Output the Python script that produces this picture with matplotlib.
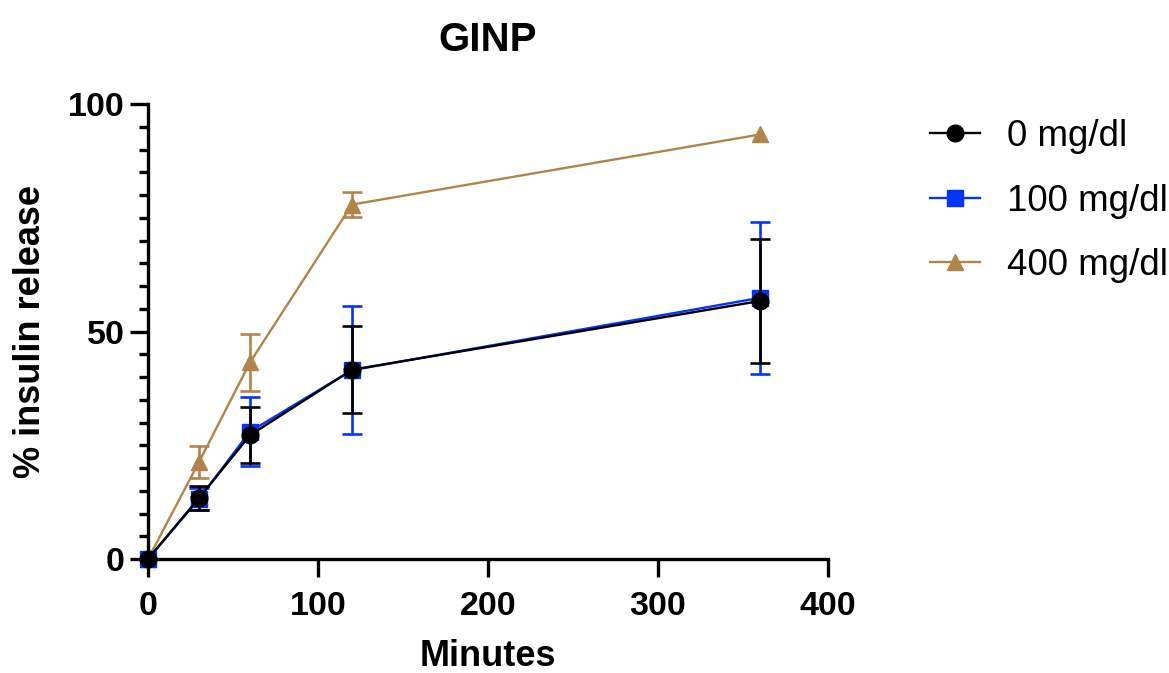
import numpy as np
import matplotlib
matplotlib.use("Agg")
import matplotlib.pyplot as plt
from matplotlib.ticker import MultipleLocator

plt.rcParams['font.family'] = ['Liberation Sans', 'DejaVu Sans']

minutes = [0, 30, 60, 120, 360]

# 0 mg/dl
y0 = [0, 13.4, 27.2, 41.6, 56.7]
e0 = [0, 2.7, 6.2, 9.6, 13.6]
# 100 mg/dl
y100 = [0, 13.2, 28.0, 41.5, 57.4]
e100 = [0, 2.4, 7.6, 14.0, 16.7]
# 400 mg/dl (no visible error bar at 360)
y400 = [0, 21.3, 43.2, 77.9, 93.3]
e400 = [0, 3.5, 6.3, 2.8, np.nan]

labels = ["0 mg/dl", "100 mg/dl", "400 mg/dl"]
colors = ["black", "#0433FF", "#B3844A"]
markers = ["o", "s", "^"]

fig = plt.figure(figsize=(11.69, 6.73), dpi=100)
ax = fig.add_axes([148/1169, 1 - 559/673, 680/1169, 455/673])

series = [(y0, e0), (y100, e100), (y400, e400)]
handles = [None] * 3
# brown first, black last so black sits on top
for i in [2, 1, 0]:
    y, e = series[i]
    cont = ax.errorbar(minutes, y, yerr=e, color=colors[i], marker=markers[i],
                       markersize=12, linewidth=1.7, elinewidth=1.9, capsize=7,
                       capthick=1.9, zorder=3 + (2 - i))
    for c in cont.get_children():
        c.set_clip_on(False)
    handles[i] = ax.plot([], [], color=colors[i], marker=markers[i],
                         markersize=12, linewidth=1.7)[0]

ax.set_xlim(0, 400)
ax.set_ylim(0, 100)
ax.xaxis.set_major_locator(MultipleLocator(100))
ax.yaxis.set_major_locator(MultipleLocator(50))
ax.yaxis.set_minor_locator(MultipleLocator(5))

for s in ['top', 'right']:
    ax.spines[s].set_visible(False)
for s in ['left', 'bottom']:
    ax.spines[s].set_linewidth(2.4)

ax.tick_params(axis='both', which='major', length=13, width=2.4, labelsize=24.5)
ax.tick_params(axis='y', which='minor', length=6.5, width=2.4)
ax.tick_params(axis='x', pad=10)
ax.tick_params(axis='y', pad=4)
for lab in ax.get_xticklabels() + ax.get_yticklabels():
    lab.set_fontweight('bold')

ax.set_xlabel("Minutes", fontsize=26, fontweight='bold', labelpad=12)
ax.set_ylabel("% insulin release", fontsize=26, fontweight='bold', labelpad=14)
ax.set_title("GINP", fontsize=29, fontweight='bold', pad=38)

fig.legend(handles, labels, loc='upper left', bbox_to_anchor=(897/1169, 1 - 86/673),
           frameon=False, fontsize=26.5, handlelength=1.36, labelspacing=0.8,
           handletextpad=0.73)

fig.savefig("out.png", dpi=100)
